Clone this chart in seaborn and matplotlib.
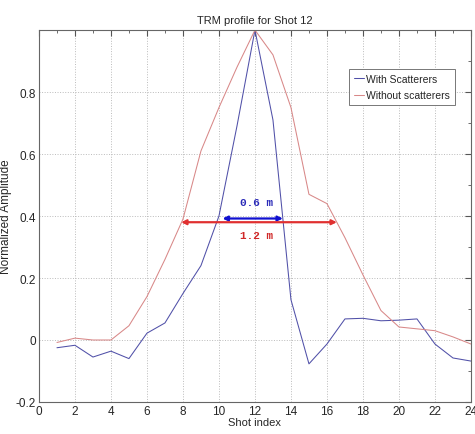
import numpy as np
import pandas as pd
import matplotlib
matplotlib.use("Agg")
import matplotlib.pyplot as plt
import seaborn as sns
from matplotlib.ticker import MultipleLocator, FuncFormatter

sns.set_style("white")
plt.rcParams["font.family"] = ["Liberation Sans Narrow", "Liberation Sans", "DejaVu Sans"]

shots = list(range(1, 25))
with_scat = [-0.025, -0.017, -0.055, -0.036, -0.06, 0.022, 0.055, 0.15, 0.24, 0.40,
             0.69, 1.0, 0.71, 0.13, -0.077, -0.013, 0.068, 0.07, 0.062, 0.064,
             0.068, -0.013, -0.058, -0.068]
without_scat = [-0.008, 0.006, 0.0, 0.0, 0.046, 0.14, 0.26, 0.39, 0.61, 0.75,
                0.88, 1.0, 0.92, 0.75, 0.47, 0.44, 0.33, 0.21, 0.095, 0.042,
                0.036, 0.03, 0.01, -0.013]

df = pd.DataFrame({
    "shot": shots * 2,
    "amp": with_scat + without_scat,
    "case": ["With Scatterers"] * 24 + ["Without scatterers"] * 24,
})

fig = plt.figure(figsize=(4.75, 4.35), dpi=100)
ax = fig.add_axes([0.082, 0.0736, 0.9095, 0.855])

sns.lineplot(data=df, x="shot", y="amp", hue="case",
             palette={"With Scatterers": "#5050a8", "Without scatterers": "#d88888"},
             linewidth=0.75, ax=ax)

# width markers
ax.annotate("", xy=(10.2, 0.392), xytext=(13.55, 0.392),
            arrowprops=dict(arrowstyle="<|-|>", color="#1010d0", lw=1.6,
                            mutation_scale=7, shrinkA=0, shrinkB=0))
ax.annotate("", xy=(7.9, 0.38), xytext=(16.55, 0.38),
            arrowprops=dict(arrowstyle="<|-|>", color="#e03030", lw=1.6,
                            mutation_scale=7, shrinkA=0, shrinkB=0))
ax.text(12.1, 0.445, "0.6 m", color="#2a2ab8", ha="center", va="center",
        fontsize=8, family=["Liberation Mono", "DejaVu Sans Mono"], fontweight="bold")
ax.text(12.1, 0.34, "1.2 m", color="#d02828", ha="center", va="center",
        fontsize=8, family=["Liberation Mono", "DejaVu Sans Mono"], fontweight="bold")

ax.set_xlim(0, 24)
ax.set_ylim(-0.2, 1.0)
ax.set_xticks(range(0, 25, 2))
ax.set_yticks([-0.2, 0, 0.2, 0.4, 0.6, 0.8])
ax.xaxis.set_minor_locator(MultipleLocator(1))
ax.yaxis.set_minor_locator(MultipleLocator(0.1))
ax.yaxis.set_major_formatter(FuncFormatter(lambda v, p: "%g" % round(v, 2)))
ax.tick_params(which="both", direction="in", top=True, right=True, labelsize=8.5,
               color="#555555", pad=2)
ax.tick_params(which="major", length=4)
ax.tick_params(which="minor", length=2)
ax.grid(True, which="major", linestyle=":", color="#bbbbbb", linewidth=0.7)
for s in ax.spines.values():
    s.set_color("#666666")
    s.set_linewidth(0.8)

ax.set_title("TRM profile for Shot 12", fontsize=8, pad=5)
ax.set_xlabel("Shot index", fontsize=8, labelpad=0)
ax.set_ylabel("Normalized Amplitude", fontsize=8.5, family=["Liberation Sans", "DejaVu Sans"])
ax.yaxis.set_label_coords(-0.062, 0.5)

leg = ax.legend(loc="upper right", bbox_to_anchor=(0.975, 0.91), fontsize=7.5,
                handlelength=1.0, handletextpad=0.15, borderpad=0.5, labelspacing=0.6,
                fancybox=False, framealpha=1, edgecolor="#777777")
leg.get_frame().set_linewidth(0.7)

fig.savefig("out.png", dpi=100)
